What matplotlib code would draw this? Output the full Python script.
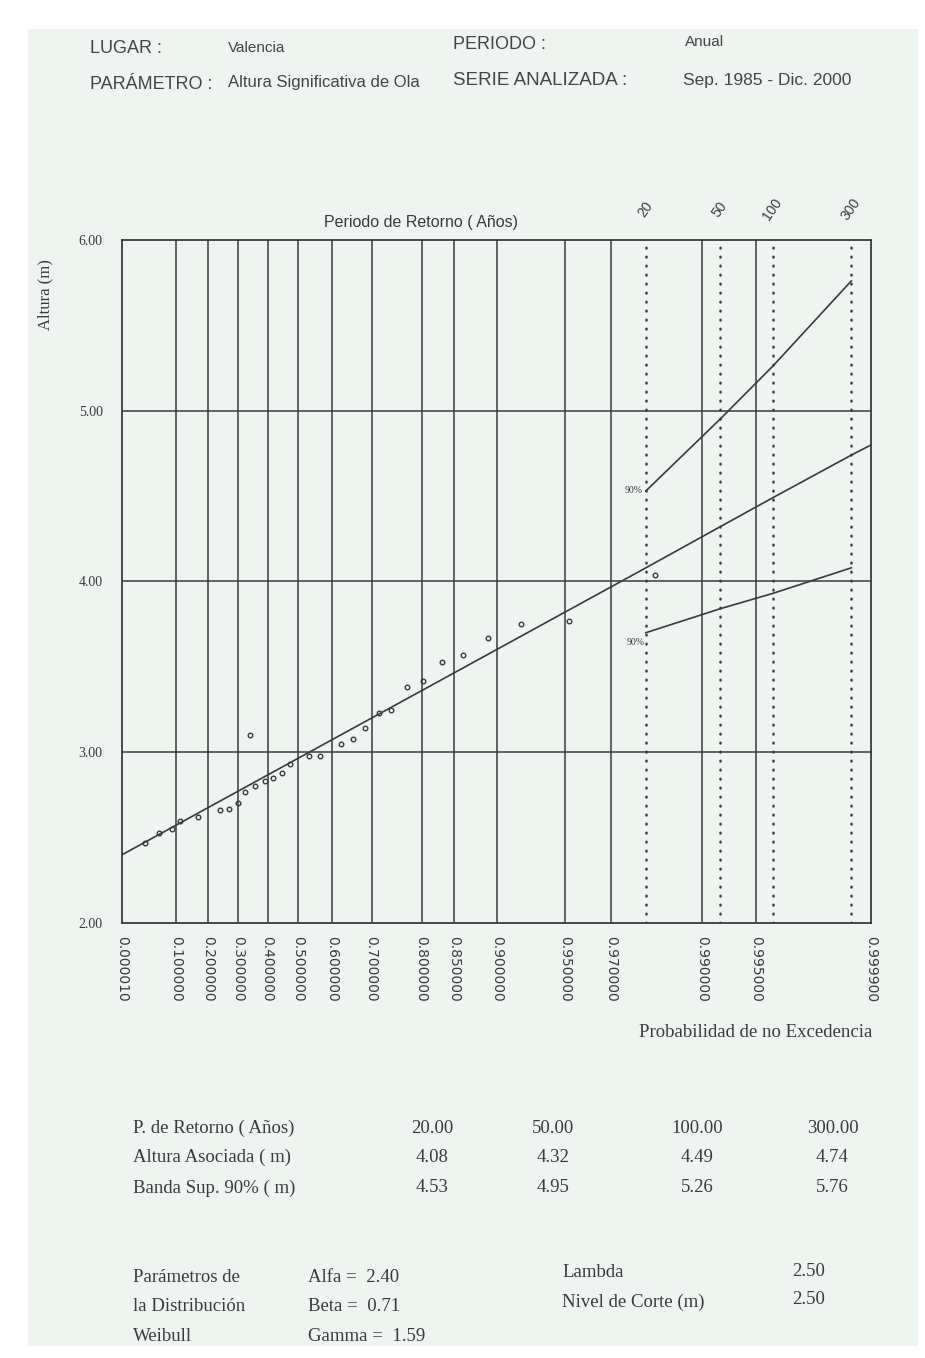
import numpy as np
import matplotlib
matplotlib.use("Agg")
import matplotlib.pyplot as plt
from matplotlib.patches import Rectangle
from matplotlib.ticker import FixedLocator, NullLocator

# Weibull parameters shown on the sheet
alfa = 2.40
beta = 0.71
gamma = 1.59
lam = 2.50
nivel_corte = 2.50

# x axis: probability of non-exceedance
prob_ticks = [0.00001, 0.1, 0.2, 0.3, 0.4, 0.5, 0.6, 0.7, 0.8, 0.85,
              0.9, 0.95, 0.97, 0.99, 0.995, 0.9999]
prob_labels = ['0.000010', '0.100000', '0.200000', '0.300000', '0.400000',
               '0.500000', '0.600000', '0.700000', '0.800000', '0.850000',
               '0.900000', '0.950000', '0.970000', '0.990000', '0.995000',
               '0.999900']
prob_max = 0.999

y_ticks = [2.0, 3.0, 4.0, 5.0, 6.0]

prob_obs = [0.026, 0.057, 0.088, 0.113, 0.165, 0.237, 0.268, 0.298, 0.323,
            0.342, 0.357, 0.391, 0.418, 0.448, 0.474, 0.533, 0.566, 0.625,
            0.654, 0.684, 0.716, 0.742, 0.774, 0.803, 0.832, 0.861, 0.891,
            0.921, 0.952, 0.982]
altura_obs = [2.47, 2.53, 2.55, 2.60, 2.62, 2.66, 2.67, 2.70, 2.77,
              3.10, 2.80, 2.83, 2.85, 2.88, 2.93, 2.98, 2.98, 3.05,
              3.08, 3.14, 3.23, 3.25, 3.38, 3.42, 3.53, 3.57, 3.67,
              3.75, 3.77, 4.04]

# return periods and table values
periodos = [20, 50, 100, 300]
altura_asociada = [4.08, 4.32, 4.49, 4.74]
banda_sup = [4.53, 4.95, 5.26, 5.76]
banda_inf = [3.70, 3.84, 3.93, 4.08]
altura_fin = 4.80  # fitted line at right edge

ink = '#3a3a3a'
page = '#eef5f1'
serif = ['Liberation Serif', 'DejaVu Serif']
sans = ['Liberation Sans', 'DejaVu Sans']


def fwd(p):
    p = np.clip(p, 0.0, 1 - 1e-12)
    return (-np.log1p(-p)) ** (1.0 / gamma)


def inv(u):
    u = np.clip(u, 0.0, None)
    return -np.expm1(-u ** gamma)


prob_periodos = [1 - 1 / (lam * t) for t in periodos]

fig = plt.figure(figsize=(9.25, 13.58), dpi=100, facecolor='white')
fig.patches.append(Rectangle((0.030, 0.009), 0.962, 0.970,
                             transform=fig.transFigure, facecolor=page,
                             edgecolor='none', zorder=-10))

ax = fig.add_axes([0.132, 0.3203, 0.8097, 0.503])
ax.set_facecolor(page)
ax.set_xscale('function', functions=(fwd, inv))
ax.set_xlim(prob_ticks[0], prob_max)
ax.set_ylim(y_ticks[0], y_ticks[-1])

# grid
for p in prob_ticks[1:]:
    if p < prob_max:
        ax.axvline(p, color=ink, lw=1.1, zorder=1)
for y in y_ticks[1:-1]:
    ax.axhline(y, color=ink, lw=1.1, zorder=1)
for p in prob_periodos:
    ax.axvline(p, color=ink, lw=1.8, ls=(0, (0.3, 3.3)),
               dash_capstyle='round', zorder=1)

# fitted line and confidence bands
fit_prob = [prob_ticks[0]] + prob_periodos + [prob_max]
fit_h = [alfa] + altura_asociada + [altura_fin]
ax.plot(fit_prob, fit_h, color=ink, lw=1.2, zorder=3)
ax.plot(prob_periodos, banda_sup, color=ink, lw=1.2, zorder=3)
ax.plot(prob_periodos, banda_inf, color=ink, lw=1.2, zorder=3)
ax.plot(prob_obs, altura_obs, 'o', ms=3.3, mfc='none', mec=ink, mew=1.0,
        zorder=4)

ax.annotate('90%', (prob_periodos[0], banda_sup[0]), xytext=(-2, 0),
            textcoords='offset points', ha='right', va='center',
            fontsize=7, color=ink, family=serif)
ax.annotate('90%', (prob_periodos[0], banda_inf[0]), xytext=(-1, -4),
            textcoords='offset points', ha='right', va='top',
            fontsize=7, color=ink, family=serif)

# axes styling
for s in ax.spines.values():
    s.set_color(ink)
    s.set_linewidth(1.3)
tick_pos = [min(p, prob_max) for p in prob_ticks]
ax.xaxis.set_major_locator(FixedLocator(tick_pos))
ax.xaxis.set_minor_locator(NullLocator())
ax.set_xticklabels(prob_labels, rotation=-90, fontsize=10, color=ink,
                   family=['DejaVu Sans'])
ax.set_yticks(y_ticks)
ax.set_yticklabels(['%.2f' % v for v in y_ticks], fontsize=10, color=ink,
                   family=serif)
ax.tick_params(axis='both', length=0)
ax.tick_params(axis='x', pad=9)
ax.tick_params(axis='y', pad=14)

# return period labels on top
for p, t in zip(prob_periodos, periodos):
    ax.text(p, 1.045, str(t), transform=ax.get_xaxis_transform(),
            rotation=55, ha='center', va='center', fontsize=10, color=ink,
            family=sans)
fig.text(0.455, 0.8365, 'Periodo de Retorno ( Años)', ha='center',
         va='center', fontsize=11.5, color=ink, family=sans)
fig.text(0.049, 0.783, 'Altura (m)', rotation=90, ha='center', va='center',
         fontsize=12, color=ink, family=serif)
fig.text(0.943, 0.240, 'Probabilidad de no Excedencia', ha='right',
         va='center', fontsize=13.5, color=ink, family=serif)

# header
hdr = dict(color='#444444', family=sans, va='center')
fig.text(0.097, 0.9645, 'LUGAR :', fontsize=13, **hdr)
fig.text(0.246, 0.9645, 'Valencia', fontsize=11, **hdr)
fig.text(0.490, 0.9675, 'PERIODO :', fontsize=13, **hdr)
fig.text(0.741, 0.9690, 'Anual', fontsize=11, **hdr)
fig.text(0.097, 0.9380, 'PARÁMETRO :', fontsize=13, **hdr)
fig.text(0.246, 0.9395, 'Altura Significativa de Ola', fontsize=12, **hdr)
fig.text(0.490, 0.9410, 'SERIE ANALIZADA :', fontsize=13.5, **hdr)
fig.text(0.738, 0.9410, 'Sep. 1985 - Dic. 2000', fontsize=12.5, **hdr)

# table of results
tb = dict(color=ink, family=serif, va='center', fontsize=13.5)
row_y = [0.1693, 0.1480, 0.1252]
col_x = [0.467, 0.598, 0.754, 0.900]
fig.text(0.144, row_y[0], 'P. de Retorno ( Años)', **tb)
fig.text(0.144, row_y[1], 'Altura Asociada ( m)', **tb)
fig.text(0.144, row_y[2], 'Banda Sup. 90% ( m)', **tb)
for x, t, h, b in zip(col_x, periodos, altura_asociada, banda_sup):
    fig.text(x, row_y[0], '%.2f' % t, ha='center', **tb)
    fig.text(x, row_y[1], '%.2f' % h, ha='center', **tb)
    fig.text(x, row_y[2], '%.2f' % b, ha='center', **tb)

par_y = [0.0590, 0.0376, 0.0162]
fig.text(0.144, par_y[0], 'Parámetros de', **tb)
fig.text(0.144, par_y[1], 'la Distribución', **tb)
fig.text(0.144, par_y[2], 'Weibull', **tb)
fig.text(0.333, par_y[0], 'Alfa =  %.2f' % alfa, **tb)
fig.text(0.333, par_y[1], 'Beta =  %.2f' % beta, **tb)
fig.text(0.333, par_y[2], 'Gamma =  %.2f' % gamma, **tb)
fig.text(0.608, 0.0626, 'Lambda', **tb)
fig.text(0.608, 0.0413, 'Nivel de Corte (m)', **tb)
fig.text(0.874, 0.0640, '%.2f' % lam, ha='center', **tb)
fig.text(0.874, 0.0430, '%.2f' % nivel_corte, ha='center', **tb)

fig.savefig('out.png', dpi=100, facecolor='white')
